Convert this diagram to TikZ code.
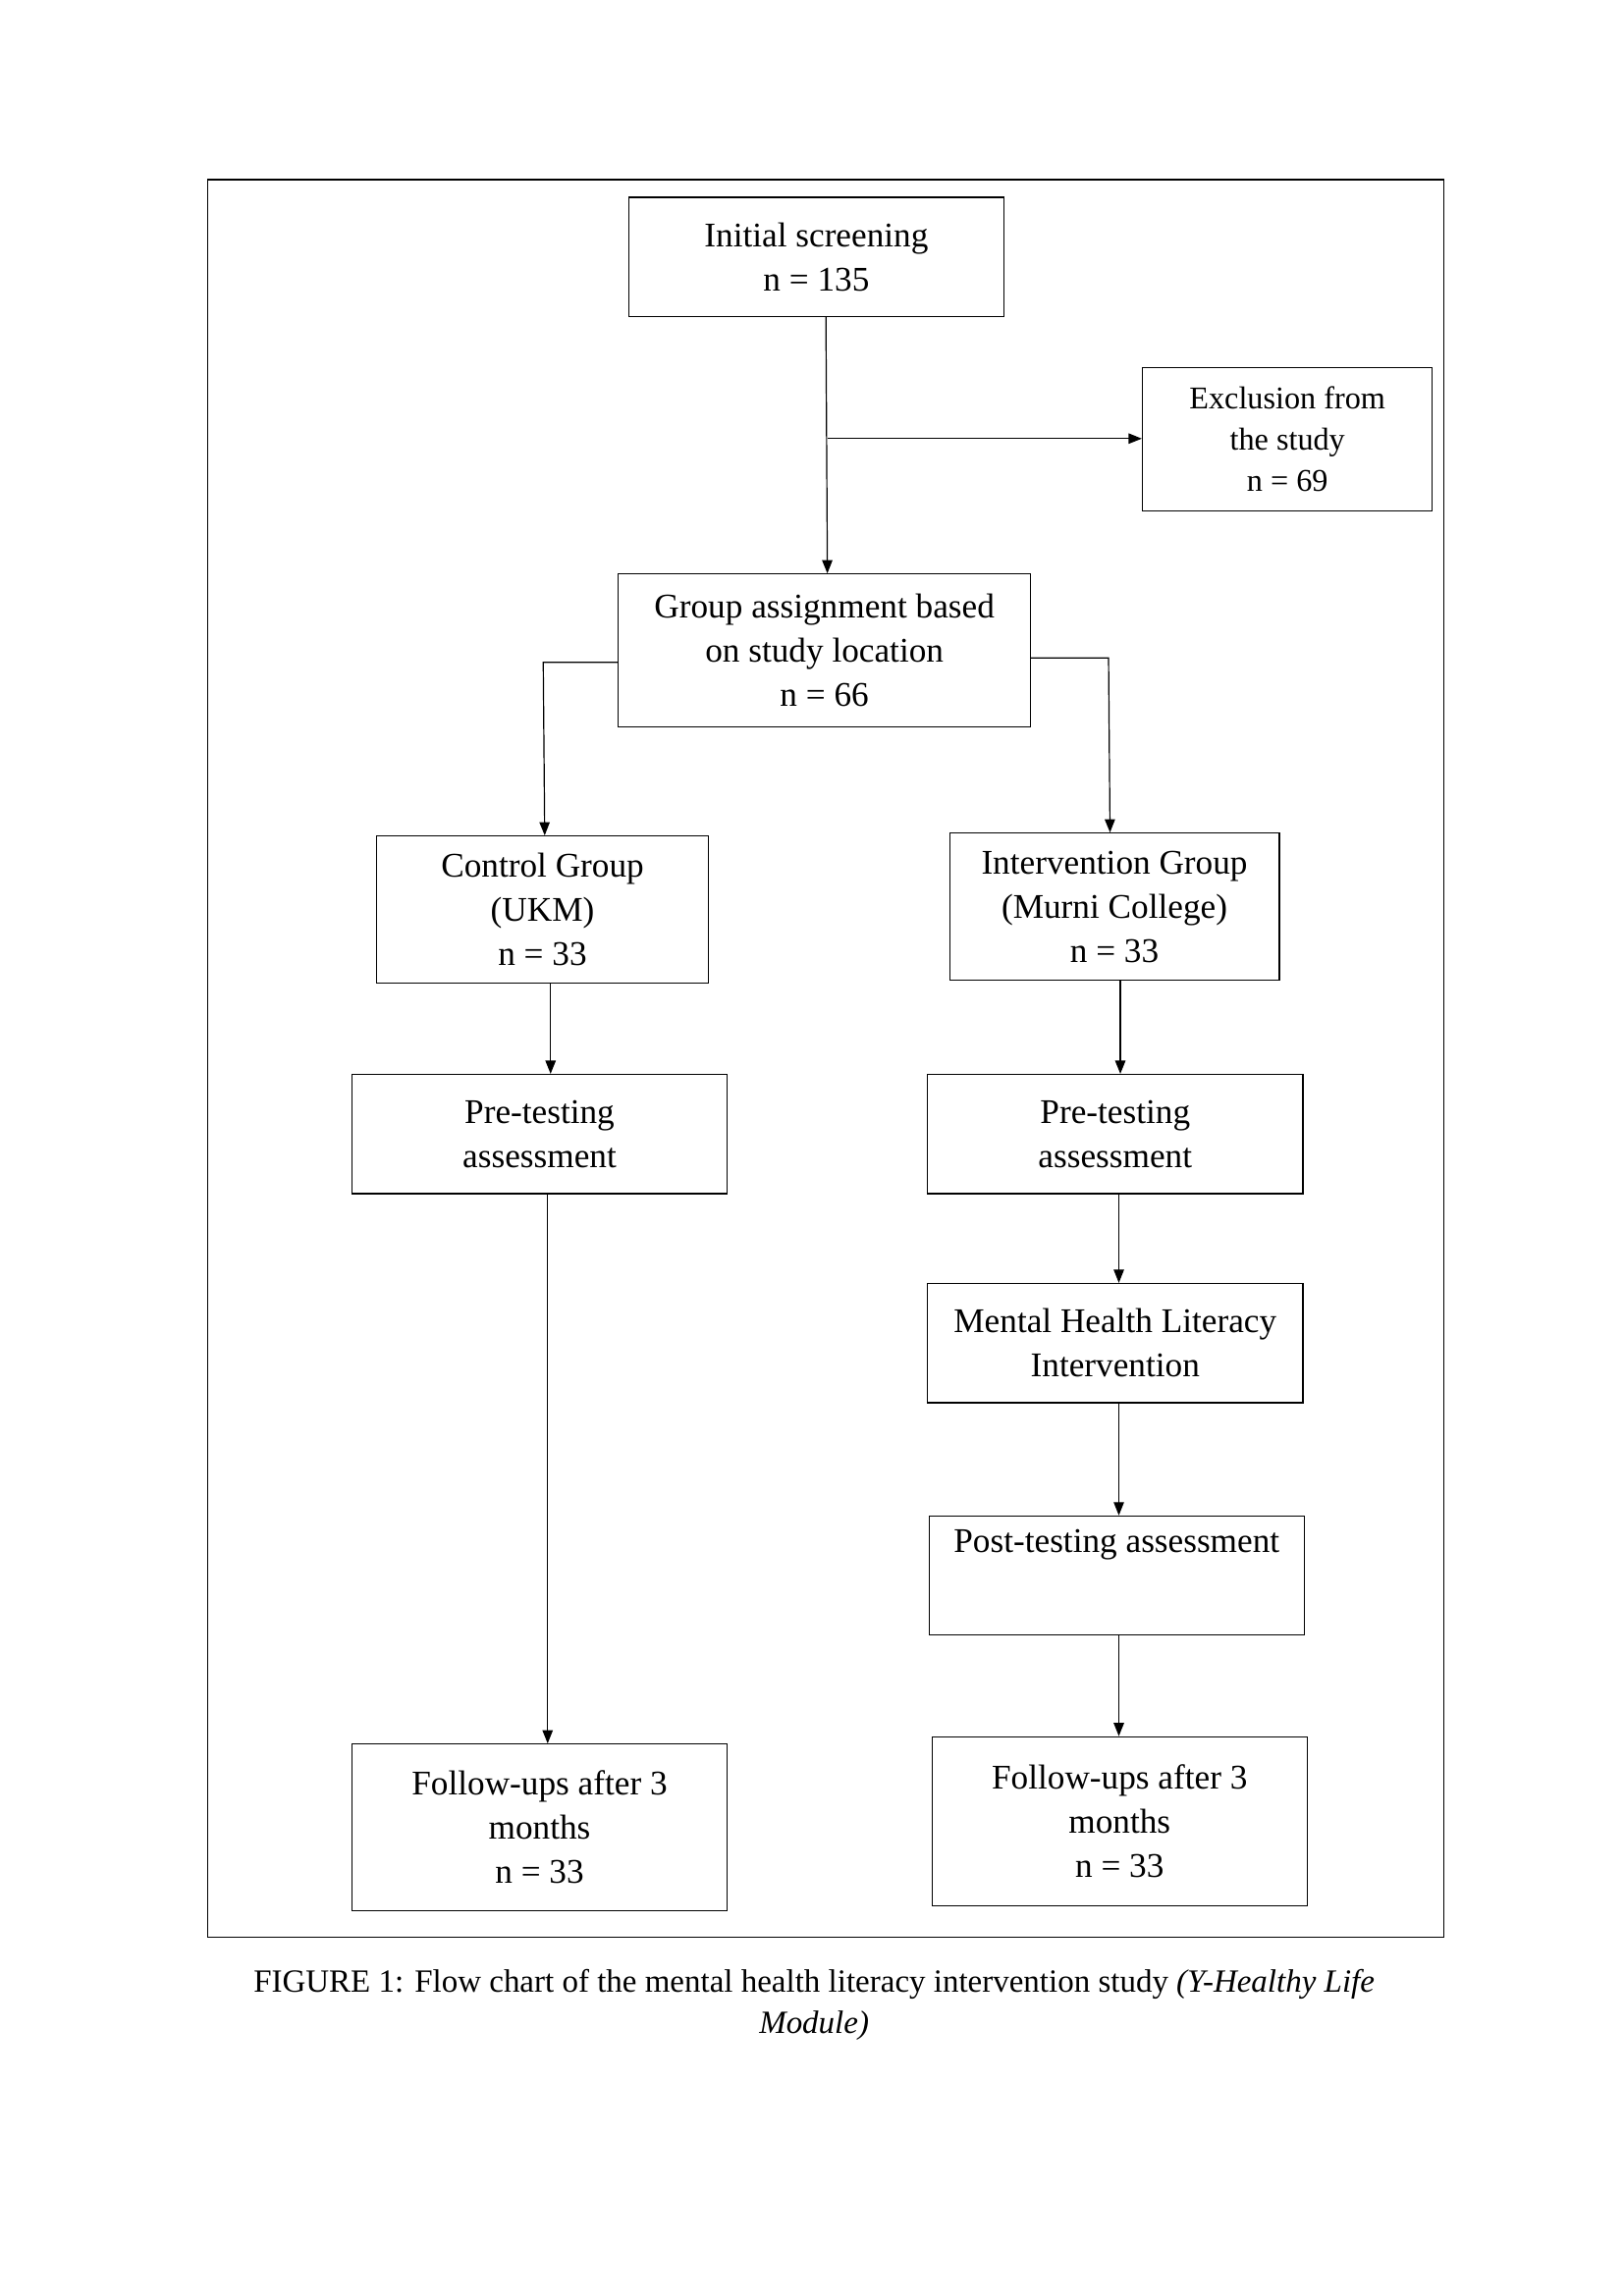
\documentclass[tikz,border=0pt]{standalone}
\usepackage{fontspec}
\setmainfont{Liberation Serif}
\usetikzlibrary{arrows.meta}
\begin{document}
\begin{tikzpicture}[x=1pt,y=-1pt,
  box/.style={draw,line width=0.8pt,inner sep=0pt},
  txt/.style={align=center,font=\fontsize{23.5}{30}\selectfont},
  arr/.style={line width=0.8pt,-{Triangle[length=9pt,width=7pt]}}]
\useasboundingbox (0,0) rectangle (1103,1560);
\draw[line width=0.8pt] (141,122) rectangle (981,1316);
\newcommand\bx[6]{%
  \node[box,minimum width=#4-#2,minimum height=#5-#3] (#1) at ({(#2+#4)/2},{(#3+#5)/2}) {};
  \node[txt] at (#1) {#6};}
\bx{init}{427}{134}{682}{215}{Initial screening\\n = 135}
\node[box,minimum width=197,minimum height=97] (excl) at (874.5,298.5) {};
\node[align=center,font=\fontsize{21.5}{28}\selectfont] at (excl) {Exclusion from\\the study\\n = 69};
\bx{grp}{420}{390}{700}{494}{Group assignment based\\on study location\\n = 66}
\bx{ctl}{256}{568}{481}{668}{Control Group\\(UKM)\\n = 33}
\bx{int}{645}{566}{869}{666}{Intervention Group\\(Murni College)\\n = 33}
\bx{preL}{239}{730}{494}{811}{Pre-testing\\assessment}
\bx{preR}{630}{730}{885}{811}{Pre-testing\\assessment}
\bx{mhl}{630}{872}{885}{953}{Mental Health Literacy\\Intervention}
\node[box,minimum width=255,minimum height=81] (post) at (758.5,1070.5) {};
\node[txt,anchor=north] at (758.5,1036) {Post-testing assessment};
\bx{folL}{239}{1185}{494}{1298}{Follow-ups after 3\\months\\n = 33}
\bx{folR}{633}{1180}{888}{1295}{Follow-ups after 3\\months\\n = 33}
\coordinate (br) at (562,298);
\draw[arr] (init.south -| 561,0) -- (grp.north -| 562,0);
\draw[arr] (br) -- (excl.west |- br);
\draw[arr] (grp.west |- 0,450) -- (369,450) -- (ctl.north -| 370,0);
\draw[arr] (grp.east |- 0,447) -- (753,447) -- (int.north -| 754,0);
\draw[arr] (ctl.south -| 374,0) -- (preL.north -| 374,0);
\draw[arr] (int.south -| 761,0) -- (preR.north -| 761,0);
\draw[arr] (preL.south -| 372,0) -- (folL.north -| 372,0);
\draw[arr] (preR.south -| 760,0) -- (mhl.north -| 760,0);
\draw[arr] (mhl.south -| 760,0) -- (post.north -| 760,0);
\draw[arr] (post.south -| 760,0) -- (folR.north -| 760,0);
\node[align=center,font=\fontsize{22}{28}\selectfont] (cap) at (553,1362)
 {FIGURE 1: Flow chart of the mental health literacy intervention study \textit{(Y-Healthy Life}\\\textit{Module)}};
\end{tikzpicture}
\end{document}
